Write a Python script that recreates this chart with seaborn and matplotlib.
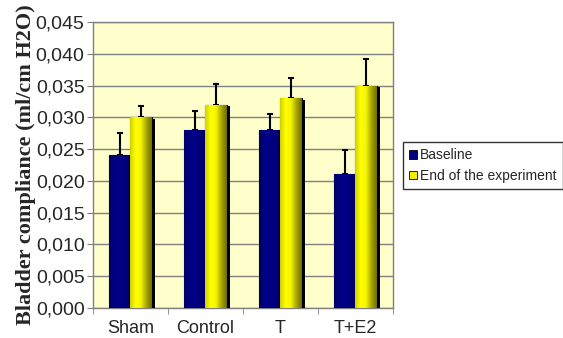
import pandas as pd
import numpy as np
import seaborn as sns
import matplotlib
matplotlib.use('Agg')
import matplotlib.pyplot as plt
import matplotlib.patheffects as pe
from matplotlib.colors import LinearSegmentedColormap
from matplotlib.ticker import FuncFormatter, FixedLocator

groups = ['Sham', 'Control', 'T', 'T+E2']
baseline = [0.024, 0.028, 0.028, 0.021]
baseline_err = [0.0035, 0.003, 0.0025, 0.0038]
end_exp = [0.030, 0.032, 0.033, 0.035]
end_err = [0.0017, 0.0033, 0.0032, 0.0042]
series = ['Baseline', 'End of the experiment']

df = pd.DataFrame({
    'group': groups * 2,
    'value': baseline + end_exp,
    'series': [series[0]] * 4 + [series[1]] * 4,
})

sns.set_style('white')
plt.rcParams['font.family'] = ['Liberation Sans', 'DejaVu Sans']

fig = plt.figure(figsize=(5.63, 3.38), dpi=100)
ax = fig.add_axes([0.165, 0.089, 0.533, 0.846])
ax.set_facecolor('#FFFFCC')

sns.barplot(data=df, x='group', y='value', hue='series', order=groups,
            palette=['#000080', '#F0F000'], width=0.58, errorbar=None,
            saturation=1, legend=True, ax=ax, zorder=3, linewidth=0.8, edgecolor='black')

# excel-like shading
cmaps = [LinearSegmentedColormap.from_list('b', ['#00006A', '#000088', '#000080', '#000060']),
         LinearSegmentedColormap.from_list('y', ['#D0D000', '#FFFF00', '#F4F400', '#A8A800', '#6E6E00'])]
grad = np.linspace(0, 1, 64).reshape(1, -1)

# error bars (upper only), shadows and gradients from the bars themselves
for cont, errs, cm in zip(ax.containers, [baseline_err, end_err], cmaps):
    for bar, e in zip(cont, errs):
        bar.set_path_effects([pe.SimplePatchShadow(offset=(2.2, -1), shadow_rgbFace='black', alpha=1),
                              pe.Normal()])
        x0, w, h = bar.get_x(), bar.get_width(), bar.get_height()
        im = ax.imshow(grad, extent=(x0, x0 + w, 0, h), cmap=cm, aspect='auto', zorder=3.5)
        im.set_clip_path(bar)
        ax.errorbar(x0 + w / 2, h, yerr=[[0], [e]], fmt='none', ecolor='black',
                    elinewidth=1.5, capsize=2.5, capthick=1.5, zorder=2)

ax.set_ylim(0, 0.045)
ax.set_xlim(-0.5, 3.5)
ax.set_yticks(np.arange(0, 0.0451, 0.005))
ax.yaxis.set_major_formatter(FuncFormatter(lambda v, p: f'{v:.3f}'.replace('.', ',')))
ax.yaxis.grid(True, color='#808080', linewidth=1)
ax.set_axisbelow(True)
for s in ax.spines.values():
    s.set_color('#808080')
    s.set_linewidth(1)

ax.tick_params(axis='y', which='major', left=True, length=4, color='#808080', labelsize=14, pad=2)
ax.tick_params(axis='x', which='major', bottom=False, labelsize=13, pad=5)
ax.xaxis.set_minor_locator(FixedLocator([-0.5, 0.5, 1.5, 2.5, 3.5]))
ax.tick_params(axis='x', which='minor', bottom=True, length=4, color='#808080')

ax.set_xlabel('')
ax.set_ylabel('Bladder compliance (ml/cm H2O)', family='Liberation Serif', fontweight='bold',
              fontsize=16, labelpad=0)

h, l = ax.get_legend_handles_labels()
ax.get_legend().remove()
leg = fig.legend(h, l, loc='center left', bbox_to_anchor=(0.703, 0.51), fontsize=10,
                 frameon=True, fancybox=False, edgecolor='black', handlelength=0.55,
                 handleheight=0.55, handletextpad=0.25, borderpad=0.45, labelspacing=0.45)
leg.get_frame().set_linewidth(1)
for p in leg.get_patches():
    p.set_edgecolor('black')
    p.set_linewidth(0.6)

plt.savefig('out.png', dpi=100)
